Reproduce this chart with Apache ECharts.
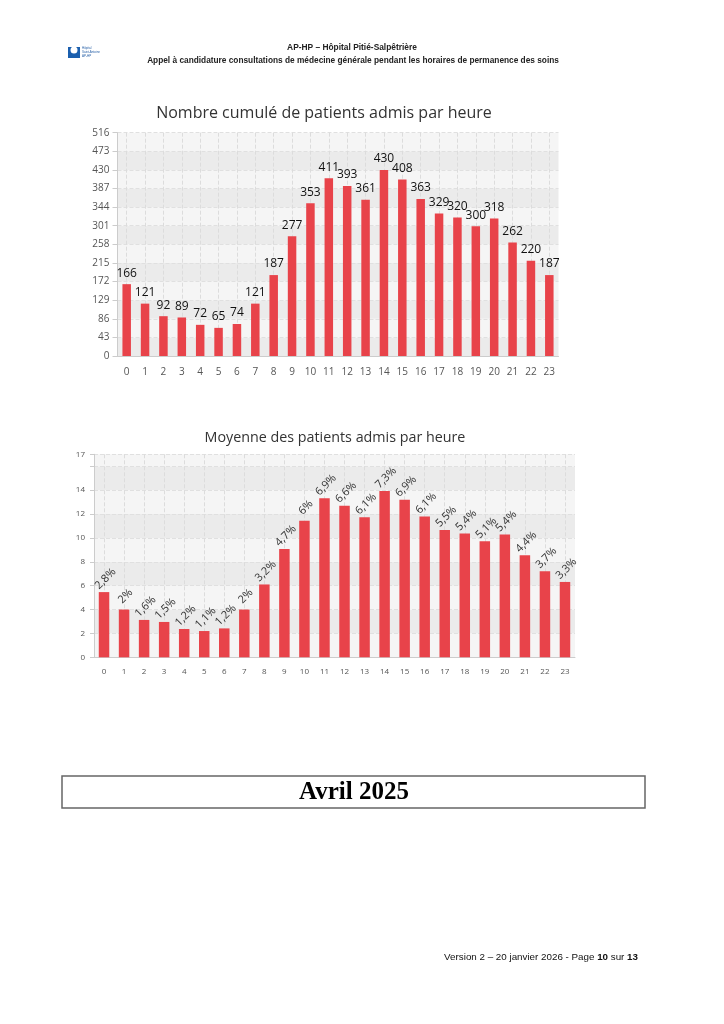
<!DOCTYPE html>
<html lang="fr">
<head>
  <meta charset="UTF-8">
  <title>Patients admis par heure</title>
  <style>
    body { margin: 0; background: #fff; }
    #main { width: 724px; height: 1024px; }
  </style>
</head>
<body>
<div id="main"></div>
<script src="https://cdn.jsdelivr.net/npm/echarts@6/dist/echarts.min.js"></script>
<script>
  // heures
  let heures = ['0','1','2','3','4','5','6','7','8','9','10','11','12','13','14','15','16','17','18','19','20','21','22','23'];
  // nombre cumulé de patients admis
  let cumul = [166,121,92,89,72,65,74,121,187,277,353,411,393,361,430,408,363,329,320,300,318,262,220,187];
  // moyenne par heure
  let moyenne = [5.46,4.0,3.13,2.96,2.37,2.2,2.42,4.0,6.1,9.07,11.43,13.31,12.7,11.73,13.92,13.2,11.79,10.67,10.36,9.72,10.28,8.54,7.21,6.31];
  // pourcentages affichés
  let pourcent = [2.8,2,1.6,1.5,1.2,1.1,1.2,2,3.2,4.7,6,6.9,6.6,6.1,7.3,6.9,6.1,5.5,5.4,5.1,5.4,4.4,3.7,3.3];

  let rouge = '#e8434a';
  let chart = echarts.init(document.getElementById('main'), null, {renderer: 'canvas'});

  let option = {
    backgroundColor: '#fff',
    animation: false,
    textStyle: { fontFamily: 'Open Sans' },
    title: [
      { text: 'Nombre cumulé de patients admis par heure', left: 319, top: 100, textAlign: 'center',
        textStyle: { fontSize: 16, fontWeight: 'normal', color: '#333', fontFamily: 'Open Sans' } },
      { text: 'Moyenne des patients admis par heure', left: 330, top: 426, textAlign: 'center',
        textStyle: { fontSize: 14.3, fontWeight: 'normal', color: '#333', fontFamily: 'Open Sans' } }
    ],
    grid: [
      { left: 117.5, top: 132.7, width: 441, height: 223.3 },
      { left: 94, top: 454.3, width: 481, height: 203 }
    ],
    xAxis: [
      { type: 'category', gridIndex: 0, data: heures,
        axisLine: { lineStyle: { color: '#ccc' } },
        axisTick: { alignWithLabel: true, length: 5, lineStyle: { color: '#ccc' } },
        axisLabel: { color: '#555', fontSize: 10, margin: 11 },
        splitLine: { show: true, alignWithLabel: true, lineStyle: { color: '#dcdcdc', type: 'dashed' } } },
      { type: 'category', gridIndex: 1, data: heures,
        axisLine: { lineStyle: { color: '#ccc' } },
        axisTick: { alignWithLabel: true, length: 4, lineStyle: { color: '#ccc' } },
        axisLabel: { color: '#555', fontSize: 8, margin: 10 },
        splitLine: { show: true, alignWithLabel: true, lineStyle: { color: '#dcdcdc', type: 'dashed' } } }
    ],
    yAxis: [
      { type: 'value', gridIndex: 0, min: 0, max: 516, interval: 43,
        axisLine: { show: true, lineStyle: { color: '#ccc' } },
        axisTick: { show: true, length: 5, lineStyle: { color: '#ccc' } },
        axisLabel: { color: '#555', fontSize: 10, margin: 8 },
        splitLine: { lineStyle: { color: '#e0e0e0', type: 'dashed' } },
        splitArea: { show: true, areaStyle: { color: ['#ebebeb', '#f5f5f5'] } } },
      { type: 'value', gridIndex: 1, min: 0, max: 17, interval: 2,
        axisLine: { show: true, lineStyle: { color: '#ccc' } },
        axisTick: { show: true, length: 4, lineStyle: { color: '#ccc' } },
        axisLabel: { color: '#555', fontSize: 8, margin: 9,
          formatter: v => v === 16 ? '' : v },
        splitLine: { lineStyle: { color: '#e0e0e0', type: 'dashed' } },
        splitArea: { show: true, areaStyle: { color: ['#f5f5f5', '#ebebeb'] } } }
    ],
    series: [
      { type: 'bar', xAxisIndex: 0, yAxisIndex: 0, data: cumul, barWidth: 8.5,
        itemStyle: { color: rouge },
        label: { show: true, position: 'top', distance: 5, color: '#111', fontSize: 12 } },
      { type: 'bar', xAxisIndex: 1, yAxisIndex: 1, data: moyenne, barWidth: 10.5,
        itemStyle: { color: rouge },
        label: { show: true, position: 'top', distance: 9, rotate: 45, align: 'center', verticalAlign: 'middle',
          color: '#333', fontSize: 11, offset: [4, -2],
          formatter: p => String(pourcent[p.dataIndex]).replace('.', ',') + '%' } }
    ],
    graphic: [
      // logo
      { type: 'rect', shape: { x: 68, y: 47, width: 12, height: 11 }, style: { fill: '#1b5fae' } },
      { type: 'circle', shape: { cx: 74, cy: 50, r: 3.5 }, style: { fill: '#fff' } },
      { type: 'text', x: 82, y: 46, style: { text: 'Hôpital\nSaint-Antoine\nAP-HP', fill: '#2a62a8', font: '3px Liberation Sans', lineHeight: 4 } },
      // en-tête
      { type: 'text', x: 352, y: 44, style: { text: 'AP-HP – Hôpital Pitié-Salpêtrière', align: 'center',
        fill: '#222', font: 'bold 8.4px Liberation Sans Narrow, Liberation Sans' } },
      { type: 'text', x: 353, y: 57, style: { text: 'Appel à candidature consultations de médecine générale pendant les horaires de permanence des soins', align: 'center',
        fill: '#222', font: 'bold 8.3px Liberation Sans Narrow, Liberation Sans' } },
      // bandeau du mois
      { type: 'rect', shape: { x: 62, y: 776, width: 583, height: 32 }, style: { fill: '#fff', stroke: '#666', lineWidth: 1.5 } },
      { type: 'text', x: 354, y: 793, style: { text: 'Avril 2025', align: 'center', verticalAlign: 'middle',
        fill: '#000', font: 'bold 25px Liberation Serif' } },
      // pied de page
      { type: 'text', x: 638, y: 957, style: {
        text: 'Version 2 – 20 janvier 2026 - Page {b|10} sur {b|13}', align: 'right', verticalAlign: 'middle',
        fill: '#111', font: '9.8px Liberation Sans Narrow, Liberation Sans',
        rich: { b: { fontWeight: 'bold', fontSize: 9.8, fontFamily: 'Liberation Sans Narrow, Liberation Sans' } } } }
    ]
  };

  chart.setOption(option);
</script>
</body>
</html>
